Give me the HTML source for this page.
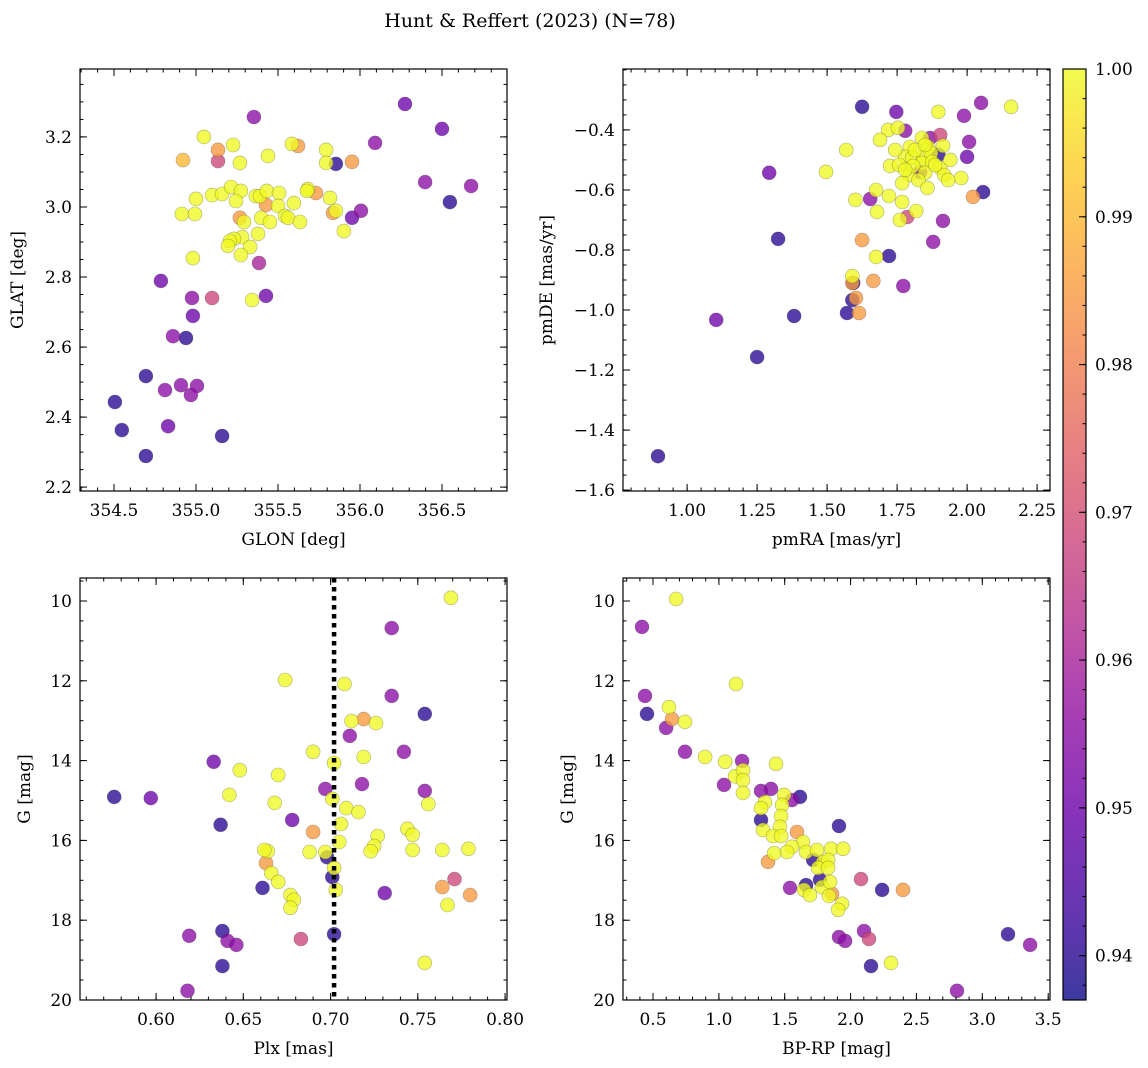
<!DOCTYPE html>
<html><head><meta charset="utf-8"><style>
html,body{margin:0;padding:0;background:#fff;}
svg{display:block;font-family:"DejaVu Serif","Liberation Serif",serif;}
</style></head><body>
<svg id="fig" width="1148" height="1068" viewBox="0 0 1148 1068">
<defs>
<linearGradient id="cbgrad" x1="0" y1="1" x2="0" y2="0">
<stop offset="0" stop-color="#0d0887"/><stop offset="0.1" stop-color="#41049d"/><stop offset="0.2" stop-color="#6a00a8"/><stop offset="0.3" stop-color="#8f0da4"/><stop offset="0.4" stop-color="#b12a90"/><stop offset="0.5" stop-color="#cc4778"/><stop offset="0.6" stop-color="#e16462"/><stop offset="0.7" stop-color="#f2844b"/><stop offset="0.8" stop-color="#fca636"/><stop offset="0.9" stop-color="#fcce25"/><stop offset="1" stop-color="#f0f921"/>
</linearGradient>
</defs>
<text x="530" y="27" font-size="19" text-anchor="middle">Hunt &amp; Reffert (2023) (N=78)</text>
</svg>
<script>
// ---- Panel 1: GLON vs GLAT
const tlLon=[355.353,355.048,354.921,355.134,355.226,355.134,355.268,355.439,355.585,355.622,355.793,355.793,355.853,355.951,356.092,356.274,356.500,354.914,354.994,355.000,355.098,355.159,355.214,355.274,355.244,355.365,355.390,355.432,355.506,355.682,355.731,355.597,355.500,355.427,355.677,355.397,355.543,355.561,355.268,355.293,355.853,355.835,356.006,355.951,355.902,355.378,355.281,355.231,355.207,355.195,355.330,355.274,354.981,355.384,354.786,354.976,354.981,355.427,355.098,355.342,354.939,354.860,354.811,354.909,355.006,354.969,354.830,354.695,354.548,354.506,354.695,355.159,356.397,356.677,356.548,355.634,355.451,355.817];
const tlLat=[3.257,3.200,3.134,3.163,3.177,3.131,3.126,3.146,3.180,3.174,3.163,3.126,3.123,3.129,3.183,3.294,3.223,2.980,2.980,3.023,3.034,3.037,3.057,3.046,3.017,3.031,3.031,3.046,3.040,3.051,3.040,3.011,3.003,3.006,3.046,2.969,2.974,2.969,2.969,2.957,2.989,2.983,2.989,2.969,2.931,2.923,2.914,2.909,2.903,2.889,2.886,2.863,2.854,2.840,2.789,2.740,2.689,2.746,2.740,2.734,2.626,2.631,2.477,2.491,2.489,2.463,2.374,2.517,2.363,2.443,2.289,2.346,3.071,3.060,3.014,2.957,2.957,3.026];
const tlProb=[0.955,1,0.99,0.985,1,0.968,1,1,1,0.985,1,1,0.94,0.985,0.955,0.95,0.95,1,1,1,1,1,1,1,1,1,1,1,1,1,0.985,1,1,0.985,1,1,1,1,0.985,1,1,0.985,0.955,0.95,1,1,1,1,1,1,1,1,1,0.96,0.95,0.955,0.95,0.95,0.968,1,0.94,0.955,0.955,0.955,0.955,0.955,0.95,0.94,0.94,0.94,0.94,0.94,0.955,0.955,0.94,1,1,1];
const tlXTicks=[354.5,355.0,355.5,356.0,356.5];
const tlYTicks=[2.2,2.4,2.6,2.8,3.0,3.2];
// ---- Panel 2: pmRA vs pmDE
const trRA=[1.625,1.747,1.897,2.050,1.989,1.568,1.718,1.753,1.779,1.839,1.868,1.796,1.861,1.914,2.007,2.000,1.779,1.804,1.843,1.871,1.897,1.725,1.757,1.839,1.875,1.904,1.918,1.832,1.793,1.850,1.979,1.768,1.675,1.721,1.601,1.654,1.768,2.057,2.021,1.678,1.818,1.786,1.760,1.914,1.879,1.625,1.496,1.325,1.293,1.250,1.104,1.382,0.896,1.721,1.675,1.665,1.590,1.590,1.593,1.603,1.590,1.614,1.571,1.772,2.157,1.814,1.886,1.826,1.743,1.940,1.858,1.807,1.689,1.932,1.850,1.779,1.904];
const trDE=[-0.323,-0.340,-0.340,-0.310,-0.353,-0.467,-0.400,-0.393,-0.403,-0.427,-0.427,-0.457,-0.457,-0.453,-0.440,-0.490,-0.490,-0.493,-0.490,-0.477,-0.483,-0.520,-0.517,-0.510,-0.507,-0.527,-0.550,-0.540,-0.550,-0.543,-0.560,-0.577,-0.600,-0.620,-0.633,-0.630,-0.640,-0.607,-0.623,-0.673,-0.670,-0.690,-0.700,-0.703,-0.773,-0.767,-0.540,-0.763,-0.543,-1.157,-1.033,-1.020,-1.487,-0.820,-0.823,-0.903,-0.887,-0.910,-0.910,-0.960,-0.967,-1.010,-1.010,-0.920,-0.323,-0.467,-0.517,-0.567,-0.467,-0.500,-0.593,-0.520,-0.433,-0.567,-0.450,-0.533,-0.417];
const trProb=[0.94,0.95,1,0.955,0.955,1,1,1,0.955,1,0.955,1,1,1,0.955,0.95,1,1,1,1,0.94,1,1,1,1,1,1,0.95,1,1,1,1,1,1,1,0.955,1,0.94,0.985,1,1,0.968,1,0.955,0.955,0.985,1,0.94,0.95,0.94,0.95,0.94,0.94,0.94,1,0.985,1,0.985,0.94,0.985,0.94,0.985,0.94,0.955,1,1,1,1,1,1,1,1,1,1,1,1,0.968];
const trXTicks=[1.00,1.25,1.50,1.75,2.00,2.25];
const trYTicks=[-1.6,-1.4,-1.2,-1.0,-0.8,-0.6,-0.4];
// ---- Panel 3: Plx vs G
const blPlx=[0.769,0.735,0.708,0.674,0.735,0.719,0.712,0.711,0.726,0.742,0.754,0.690,0.702,0.719,0.701,0.709,0.718,0.716,0.633,0.648,0.642,0.670,0.668,0.697,0.754,0.756,0.744,0.747,0.727,0.725,0.576,0.597,0.637,0.678,0.690,0.697,0.705,0.698,0.688,0.723,0.664,0.662,0.663,0.666,0.670,0.661,0.677,0.679,0.677,0.701,0.703,0.702,0.731,0.747,0.764,0.779,0.764,0.771,0.767,0.780,0.619,0.638,0.641,0.646,0.638,0.683,0.702,0.618,0.754,0.706];
const blG=[9.92,10.68,12.08,11.98,12.38,12.96,13.01,13.38,13.06,13.78,12.83,13.78,14.06,13.91,14.96,15.19,14.59,15.29,14.03,14.24,14.86,14.36,15.06,14.71,14.76,15.09,15.71,15.86,15.89,16.14,14.91,14.94,15.61,15.49,15.79,16.29,16.04,16.42,16.29,16.27,16.27,16.24,16.57,16.82,17.04,17.19,17.37,17.49,17.69,16.92,17.24,16.69,17.32,16.24,16.24,16.21,17.17,16.97,17.62,17.37,18.39,18.27,18.52,18.62,19.15,18.47,18.35,19.77,19.07,15.59];
const blProb=[1,0.955,1,1,0.955,0.985,1,0.955,1,0.955,0.94,1,1,1,1,1,0.955,1,0.95,1,1,1,1,0.955,0.955,1,1,1,1,1,0.94,0.95,0.94,0.95,0.985,1,1,0.94,1,1,1,1,0.985,1,1,0.94,1,1,1,0.94,1,1,0.95,1,1,1,0.985,0.968,1,0.985,0.955,0.94,0.955,0.955,0.94,0.968,0.94,0.955,1,1];
const blXTicks=[0.60,0.65,0.70,0.75,0.80];
const blYTicks=[10,12,14,16,18,20];
const plxMean=[0.702];
// ---- Panel 4: BP-RP vs G
const brCol=[0.675,0.416,0.439,0.454,0.599,0.621,0.644,0.743,0.743,0.895,1.047,1.130,1.176,1.123,1.183,1.183,1.039,1.183,1.320,1.396,1.434,1.495,1.616,1.555,1.350,1.320,1.480,1.472,1.320,1.335,1.464,1.411,1.472,1.593,1.912,1.639,1.555,1.517,1.662,1.745,1.852,1.943,1.419,1.373,1.715,1.791,1.829,1.753,1.829,1.768,1.662,1.783,1.836,1.647,1.540,1.859,1.935,1.905,1.912,1.958,2.079,2.239,2.398,2.102,2.140,2.155,2.307,2.808,3.195,3.363,1.844,1.692];
const brG=[9.95,10.65,12.38,12.83,13.18,12.66,12.96,13.03,13.78,13.91,14.03,12.08,14.01,14.39,14.24,14.49,14.61,14.81,14.76,14.71,14.08,14.86,14.91,14.99,15.04,15.19,15.11,15.39,15.49,15.74,15.66,15.89,15.89,15.79,15.64,16.04,16.16,16.29,16.29,16.24,16.21,16.21,16.32,16.54,16.49,16.54,16.49,16.69,16.69,16.99,17.12,17.17,17.39,17.24,17.19,17.34,17.59,17.74,18.42,18.52,16.97,17.24,17.24,18.27,18.47,19.15,19.07,19.77,18.35,18.62,17.04,17.37];
const brProb=[1,0.955,0.955,0.94,0.955,1,0.985,1,0.955,1,1,1,0.955,1,1,1,0.955,1,0.955,0.955,1,1,0.94,0.955,1,1,1,1,0.94,1,1,1,1,0.985,0.94,1,1,1,1,1,1,1,1,0.985,0.94,1,1,1,1,0.94,0.94,1,1,1,0.955,0.985,1,1,0.955,0.955,0.968,0.94,0.985,0.955,0.968,0.94,1,0.955,0.94,0.955,1,1];
const brXTicks=[0.5,1.0,1.5,2.0,2.5,3.0,3.5];
const brYTicks=[10,12,14,16,18,20];
// ---- colorbar
const cbTicks=[0.94,0.95,0.96,0.97,0.98,0.99,1.00];
const cbMin=0.937, cbMax=1.0;

const NS='http://www.w3.org/2000/svg';
const svg=document.getElementById('fig');
const stops=[[0,13,8,135],[0.1,65,4,157],[0.2,106,0,168],[0.3,143,13,164],[0.4,177,42,144],[0.5,204,71,120],[0.6,225,100,98],[0.7,242,132,75],[0.8,252,166,54],[0.9,252,206,37],[1,240,249,33]];
function plasma(v){
  let t=(v-cbMin)/(cbMax-cbMin); t=Math.max(0,Math.min(1,t));
  for(let i=1;i<stops.length;i++){ if(t<=stops[i][0]){ const a=stops[i-1],b=stops[i],f=(t-a[0])/(b[0]-a[0]);
    return 'rgb('+[1,2,3].map(k=>Math.round(a[k]+(b[k]-a[k])*f)).join(',')+')'; } }
  return 'rgb(240,249,33)';
}
function mk(tag,attrs,parent){ const e=document.createElementNS(NS,tag); for(const k in attrs) e.setAttribute(k,attrs[k]); (parent||svg).appendChild(e); return e; }
function fmt(v,d){ const s=v.toFixed(d); return s.replace('-','\u2212'); }

function panel(p){
  const g=mk('g',{});
  
  
  const X=v=>p.x0+(v-p.xmin)/(p.xmax-p.xmin)*(p.x1-p.x0);
  const Y=p.yinv? (v=>p.y0+(v-p.ymin)/(p.ymax-p.ymin)*(p.y1-p.y0)) : (v=>p.y1-(v-p.ymin)/(p.ymax-p.ymin)*(p.y1-p.y0));
  const idx=p.xs.map((_,i)=>i).sort((a,b)=>p.c[a]-p.c[b]);
  const pg=mk('g',{},g);
  
  
  idx.forEach(i=>{
    const c=mk('circle',{cx:X(p.xs[i]).toFixed(1),cy:Y(p.ys[i]).toFixed(1),r:7,fill:plasma(p.c[i]),'fill-opacity':0.78,stroke:'rgba(60,60,60,0.4)','stroke-width':0.6},pg);
    
    
  });
  if(p.vline){
    const l=mk('line',{x1:X(p.vline),x2:X(p.vline),y1:p.y0,y2:p.y1,stroke:'#000','stroke-width':4.5,'stroke-dasharray':'4.5 4.5'},g);
    
    
  }
  const fr=mk('rect',{x:p.x0,y:p.y0,width:p.x1-p.x0,height:p.y1-p.y0,fill:'none',stroke:'#000','stroke-width':1.2},g);
  
  
  const tk=mk('g',{stroke:'#000','stroke-width':1},g);
  
  
  for(let v=Math.ceil(p.xmin/p.xminor-1e-6)*p.xminor; v<=p.xmax; v+=p.xminor){
    const x=X(v).toFixed(1);
    mk('line',{x1:x,x2:x,y1:p.y1,y2:p.y1-3.5},tk); mk('line',{x1:x,x2:x,y1:p.y0,y2:p.y0+3.5},tk);
  }
  for(let v=Math.ceil(p.ymin/p.yminor-1e-6)*p.yminor; v<=p.ymax; v+=p.yminor){
    const y=Y(v).toFixed(1);
    mk('line',{x1:p.x0,x2:p.x0+3.5,y1:y,y2:y},tk); mk('line',{x1:p.x1,x2:p.x1-3.5,y1:y,y2:y},tk);
  }
  p.xt.forEach(v=>{ const x=X(v).toFixed(1);
    mk('line',{x1:x,x2:x,y1:p.y1,y2:p.y1-7},tk); mk('line',{x1:x,x2:x,y1:p.y0,y2:p.y0+7},tk);
    const t=mk('text',{x:x,y:p.y1+25,'font-size':17,'text-anchor':'middle'},g); t.textContent=fmt(v,p.xd);
    
    
  });
  p.yt.forEach(v=>{ const y=Y(v);
    mk('line',{x1:p.x0,x2:p.x0+7,y1:y.toFixed(1),y2:y.toFixed(1)},tk); mk('line',{x1:p.x1,x2:p.x1-7,y1:y.toFixed(1),y2:y.toFixed(1)},tk);
    const t=mk('text',{x:p.x0-8,y:(y+6).toFixed(1),'font-size':17,'text-anchor':'end'},g); t.textContent=fmt(v,p.yd);
    
    
  });
  const xl=mk('text',{x:(p.x0+p.x1)/2,y:p.y1+54,'font-size':17,'text-anchor':'middle'},g); xl.textContent=p.xlabel;
  
  
  const cy=(p.y0+p.y1)/2;
  const yl=mk('text',{x:p.ylx,y:cy,'font-size':17,'text-anchor':'middle',transform:'rotate(-90 '+p.ylx+' '+cy+')'},g); yl.textContent=p.ylabel;
  
  
}

panel({name:'glon-glat-panel',x0:80,x1:507,y0:69,y1:491,xmin:354.293,xmax:356.896,ymin:2.189,ymax:3.394,xs:tlLon,ys:tlLat,c:tlProb,xt:tlXTicks,yt:tlYTicks,xminor:0.1,yminor:0.05,xd:1,yd:1,xlabel:'GLON [deg]',ylabel:'GLAT [deg]',ylx:23});
panel({name:'pm-panel',x0:623,x1:1050,y0:69,y1:491,xmin:0.771,xmax:2.296,ymin:-1.603,ymax:-0.197,xs:trRA,ys:trDE,c:trProb,xt:trXTicks,yt:trYTicks,xminor:0.05,yminor:0.05,xd:2,yd:1,xlabel:'pmRA [mas/yr]',ylabel:'pmDE [mas/yr]',ylx:552});
panel({name:'plx-g-panel',x0:80,x1:507,y0:578,y1:1000,xmin:0.5564,xmax:0.8011,ymin:9.424,ymax:20,yinv:true,xs:blPlx,ys:blG,c:blProb,xt:blXTicks,yt:blYTicks,xminor:0.01,yminor:0.5,xd:2,yd:0,xlabel:'Plx [mas]',ylabel:'G [mag]',ylx:30,vline:plxMean[0]});
panel({name:'cmd-panel',x0:623,x1:1050,y0:578,y1:1000,xmin:0.272,xmax:3.514,ymin:9.424,ymax:20,yinv:true,xs:brCol,ys:brG,c:brProb,xt:brXTicks,yt:brYTicks,xminor:0.1,yminor:0.5,xd:1,yd:0,xlabel:'BP-RP [mag]',ylabel:'G [mag]',ylx:573});

(function(){
  const g=mk('g',{});
  
  
  const x0=1063,x1=1086,y0=69,y1=1000;
  const Y=v=>y1-(v-cbMin)/(cbMax-cbMin)*(y1-y0);
  mk('rect',{x:x0,y:y0,width:x1-x0,height:y1-y0,fill:'url(#cbgrad)','fill-opacity':0.8},g);
  mk('rect',{x:x0,y:y0,width:x1-x0,height:y1-y0,fill:'none',stroke:'#000','stroke-width':1.2},g);
  for(let v=0.938; v<=1.0001; v+=0.002){ const y=Y(v).toFixed(1); mk('line',{x1:x1,x2:x1-3.5,y1:y,y2:y,stroke:'#000'},g); }
  cbTicks.forEach(v=>{ const y=Y(v);
    mk('line',{x1:x1,x2:x1-7,y1:y.toFixed(1),y2:y.toFixed(1),stroke:'#000'},g);
    const t=mk('text',{x:x1+9,y:(y+6).toFixed(1),'font-size':17},g); t.textContent=v.toFixed(2);
    
    
  });
})();
</script>
</body></html>
